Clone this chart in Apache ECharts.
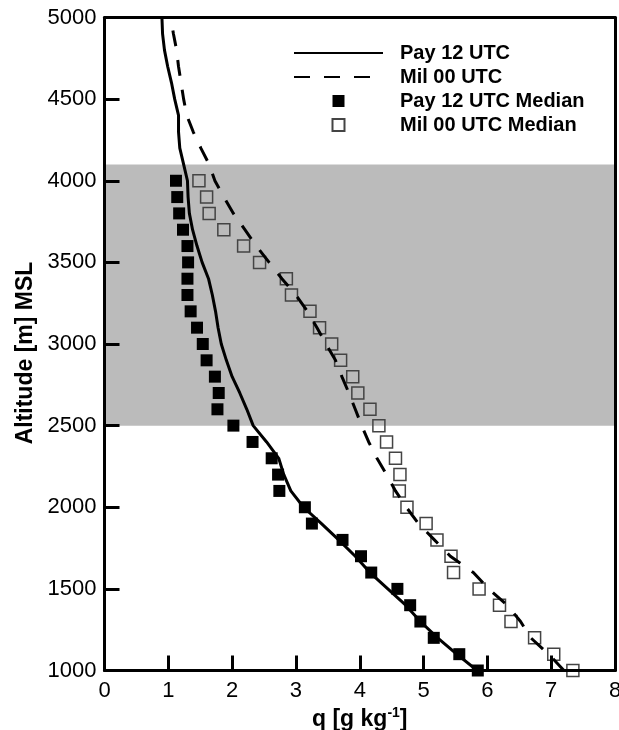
<!DOCTYPE html>
<html>
<head>
<meta charset="utf-8">
<script src="https://cdn.jsdelivr.net/npm/echarts@6/dist/echarts.min.js"></script>
<style>html,body{margin:0;padding:0;background:#fff;}#c{width:619px;height:730px;}</style>
</head>
<body>
<div id="c"></div>
<script>
// Altitudes [m MSL]
const lineAlt = [1000,1100,1200,1300,1400,1500,1600,1700,1800,1900,2000,2100,2200,2300,2400,2500,2600,2700,2800,2900,3000,3100,3200,3300,3400,3500,3600,3700,3800,3900,4000,4100,4200,4300,4400,4500,4600,4700,4800,4900,5000];
const medianAlt = [1000,1100,1200,1300,1400,1500,1600,1700,1800,1900,2000,2100,2200,2300,2400,2500,2600,2700,2800,2900,3000,3100,3200,3300,3400,3500,3600,3700,3800,3900,4000];
// q [g/kg]
const payLine = [5.84,5.52,5.22,4.95,4.72,4.44,4.16,3.93,3.67,3.40,3.12,2.92,2.81,2.73,2.54,2.33,2.23,2.12,2.00,1.91,1.83,1.78,1.74,1.69,1.63,1.53,1.45,1.38,1.33,1.31,1.30,1.24,1.18,1.16,1.16,1.10,1.05,0.99,0.94,0.91,0.90];
const milLine = [7.20,6.96,6.68,6.52,6.31,6.02,5.78,5.42,5.17,4.92,4.73,4.56,4.42,4.27,4.14,4.03,3.93,3.83,3.72,3.62,3.47,3.33,3.18,3.00,2.78,2.58,2.38,2.20,2.02,1.87,1.73,1.64,1.51,1.39,1.29,1.24,1.20,1.16,1.13,1.08,1.04];
const payMedian = [5.85,5.56,5.16,4.95,4.79,4.59,4.18,4.02,3.73,3.25,3.14,2.74,2.72,2.62,2.32,2.02,1.77,1.79,1.73,1.60,1.54,1.45,1.35,1.30,1.30,1.31,1.30,1.23,1.17,1.14,1.12];
const milMedian = [7.34,7.04,6.74,6.37,6.19,5.87,5.47,5.43,5.21,5.04,4.74,4.62,4.63,4.56,4.42,4.30,4.16,3.97,3.89,3.70,3.56,3.37,3.22,2.93,2.85,2.43,2.18,1.87,1.64,1.60,1.48];
const xTicks = [0,1,2,3,4,5,6,7,8];
const yTicks = [1000,1500,2000,2500,3000,3500,4000,4500,5000];
const band = [2500, 4100];
const seriesNames = ['Pay 12 UTC','Mil 00 UTC','Pay 12 UTC Median','Mil 00 UTC Median'];

const pair = (xs, ys) => xs.map((v, i) => [v, ys[i]]);
const FONT = '"Liberation Sans", Arial, Helvetica, sans-serif';

const chart = echarts.init(document.getElementById('c'), null, {renderer: 'canvas'});
const axisLabelCommon = {color: '#000', fontSize: 22, fontFamily: FONT, formatter: v => String(v)};
chart.setOption({
  animation: false,
  backgroundColor: '#fff',
  grid: {left: 104.5, right: 4, top: 17.5, bottom: 59.5, outerBoundsMode: 'none', containLabel: false},
  legend: {
    orient: 'vertical', left: 293, top: 43, padding: 0, itemGap: 4,
    itemWidth: 89, itemHeight: 12,
    textStyle: {fontSize: 20, fontWeight: 'bold', color: '#000', fontFamily: FONT, padding: [0,0,0,12]},
    data: [
      {name: seriesNames[0], itemStyle: {opacity: 0}},
      {name: seriesNames[1], itemStyle: {opacity: 0}},
      {name: seriesNames[2], icon: 'path://M0 0H10V10H0Z'},
      {name: seriesNames[3], icon: 'path://M0 0H10V10H0Z'}
    ],
    symbolKeepAspect: true
  },
  xAxis: [{
    type: 'value', min: xTicks[0], max: xTicks[xTicks.length-1], interval: 1, z: 10,
    name: '{b|q [g kg}{s|-1}{b|]}', nameLocation: 'middle', nameGap: 36,
    nameTextStyle: {rich: {
      b: {fontSize: 23, fontWeight: 'bold', fontFamily: FONT, color: '#000'},
      s: {fontSize: 14, fontWeight: 'bold', fontFamily: FONT, color: '#000', verticalAlign: 'top', padding: [0,0,12,0]}
    }},
    axisLine: {show: true, onZero: false, lineStyle: {color: '#000', width: 3}},
    axisTick: {show: true, inside: true, length: 15, lineStyle: {color: '#000', width: 3}},
    axisLabel: Object.assign({margin: 9}, axisLabelCommon),
    splitLine: {show: false}
  }, {
    type: 'value', position: 'top', min: 0, max: 8, interval: 1, z: 10,
    axisLine: {show: true, onZero: false, lineStyle: {color: '#000', width: 3}},
    axisTick: {show: false}, axisLabel: {show: false}, splitLine: {show: false}
  }],
  yAxis: [{
    type: 'value', min: yTicks[0], max: yTicks[yTicks.length-1], interval: 500, z: 10,
    name: 'Altitude [m] MSL', nameLocation: 'middle', nameRotate: 90, nameGap: 65,
    nameTextStyle: {fontSize: 23, fontWeight: 'bold', fontFamily: FONT, color: '#000', padding: [0,18,0,0]},
    axisLine: {show: true, onZero: false, lineStyle: {color: '#000', width: 3}},
    axisTick: {show: true, inside: true, length: 15, lineStyle: {color: '#000', width: 3}},
    axisLabel: Object.assign({margin: 8}, axisLabelCommon),
    splitLine: {show: false}
  }, {
    type: 'value', position: 'right', min: 1000, max: 5000, interval: 500, z: 10,
    axisLine: {show: true, onZero: false, lineStyle: {color: '#000', width: 3}},
    axisTick: {show: false}, axisLabel: {show: false}, splitLine: {show: false}
  }],
  series: [
    {
      name: 'band', type: 'line', data: [], z: 1, silent: true,
      markArea: {silent: true, itemStyle: {color: '#bbbbbb'}, data: [[{yAxis: band[0]}, {yAxis: band[1]}]]}
    },
    {
      name: seriesNames[2], type: 'scatter', z: 3, symbol: 'rect', symbolSize: 12,
      itemStyle: {color: '#000', opacity: 1},
      data: pair(payMedian, medianAlt)
    },
    {
      name: seriesNames[3], type: 'scatter', z: 3, symbol: 'rect', symbolSize: 12,
      itemStyle: {color: 'rgba(0,0,0,0)', borderColor: '#444', borderWidth: 1.5, opacity: 1},
      data: pair(milMedian, medianAlt)
    },
    {
      name: seriesNames[0], type: 'line', z: 4, symbol: 'none', showSymbol: false, smooth: false,
      lineStyle: {color: '#000', width: 3},
      itemStyle: {color: '#000'},
      data: pair(payLine, lineAlt)
    },
    {
      name: seriesNames[1], type: 'line', z: 4, symbol: 'none', showSymbol: false, smooth: false,
      lineStyle: {color: '#000', width: 3, type: [16, 14]},
      itemStyle: {color: '#000'},
      data: pair(milLine, lineAlt)
    }
  ]
});
</script>
</body>
</html>
